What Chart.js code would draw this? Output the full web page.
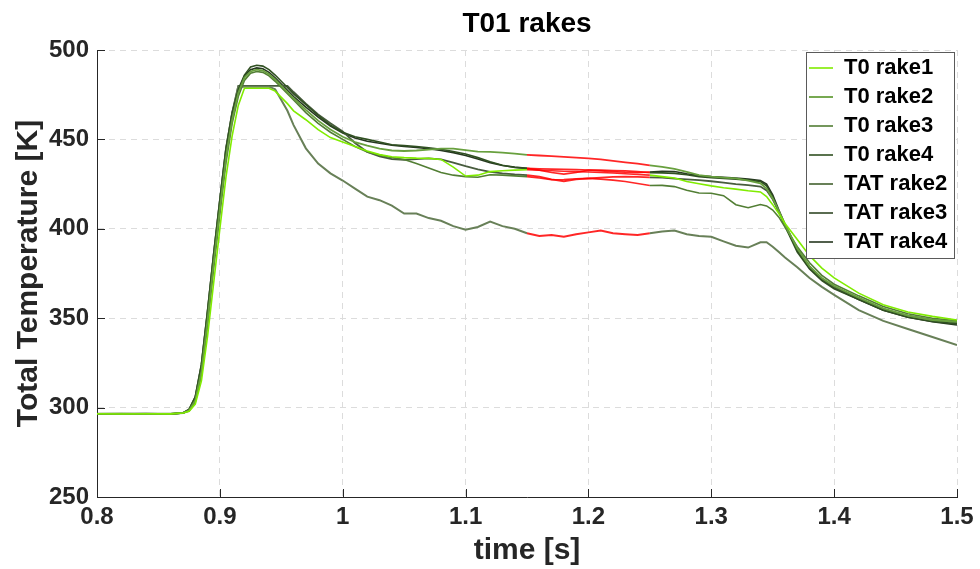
<!DOCTYPE html>
<html>
<head>
<meta charset="utf-8">
<script src="https://cdn.jsdelivr.net/npm/chart.js@4.4.1/dist/chart.umd.min.js"></script>
<style>
html,body{margin:0;padding:0;background:#fff;}
#c{display:block;}
</style>
</head>
<body>
<canvas id="c" width="980" height="569"></canvas>
<script>
// ---- data ----
const time = [0.80,0.82,0.84,0.86,
  0.87,0.875,0.88,0.885,0.89,0.895,0.90,0.905,0.91,0.915,0.92,0.925,0.93,0.935,0.94,0.945,0.95,0.955,0.96,
  0.97,0.98,0.99,1.00,1.01,1.02,1.03,1.04,1.05,1.06,1.07,1.08,1.09,1.10,1.11,1.12,1.13,1.14,1.15,
  1.16,1.17,1.18,1.19,1.20,1.21,1.22,1.23,1.24,1.25,1.26,1.27,1.28,1.29,1.30,1.31,1.32,1.33,1.34,
  1.345,1.35,1.355,1.36,1.37,1.38,1.39,1.40,1.42,1.44,1.46,1.48,1.50];

const seriesNames = ['T0 rake1','T0 rake2','T0 rake3','T0 rake4','TAT rake2','TAT rake3','TAT rake4'];

const t0Rake1 = [296.6,296.4,296.6,296.5,
  297,298,302,315,340,370,400,429,452,469,478.6,478.6,478.6,478.6,478.6,477,473.5,470,466,
  461,455.5,451,448.5,446,443.5,441.5,440.3,439.8,439.5,439.4,438.8,434.5,429.5,430,432,432.5,432.8,433,
  432.8,432.5,432.2,432,431.8,431.5,431.2,430.8,430.4,430,429.2,428.4,426.5,425.2,424,423,422.2,421.3,420.6,
  418,413.5,408.5,403,394,385,378,372.5,364,357.5,353.5,351,349];

const t0Rake2 = [296.5,296.6,296.4,296.5,
  297,298.5,304,320,349,381,411,440,461,476,484.5,488,489,488.5,486.5,483.5,480,476.5,473,
  466.5,460.5,455.5,451.5,448.5,446.5,444.8,443.8,443.5,443.8,444.3,444.8,444.8,444,443.2,443,442.6,442,441.4,
  441,440.6,440.2,439.8,439.4,438.8,438,437.2,436.4,435.5,434.6,433.5,431.8,430,429.2,428.6,428.2,427,425.4,
  422.5,417,410,402.5,389,379,372.5,368,361.5,355.5,351.5,349,348];

const t0Rake3 = [296.5,296.4,296.5,296.6,
  297,298,303,318,346,378,408,437,459,474,483,487,488,487.5,485.5,482.5,479,475.5,472,
  465,459,454,450,446,443,441.2,439.8,438.8,436.5,434,431.5,430,429.2,428.8,430.2,430,429.6,429.2,
  428.4,427.4,427.6,428,428.2,427.8,427.2,426.5,425.3,424.2,424.3,423.6,421.6,420,419.9,418.5,413.5,411.8,413.6,
  412.8,410.5,406.5,401,390,381,374,369,362.5,356.5,352.5,350,348.5];

const t0Rake4 = [296.4,296.5,296.5,296.4,
  297,299,306,324,354,386,416,445,465,478,486,490.5,491.5,491,489,486,482.5,479,475.5,
  469.5,463.5,458,454,451.5,450,448.5,447,446.5,446,445.3,444.5,443.2,441.8,439.8,437.5,435.5,434.3,433.8,
  433.6,433.4,433.3,433.1,432.9,432.8,432.6,432.4,432,431.4,431.3,431,430.2,429.2,428.6,428.2,427.8,427.2,426.4,
  424,418,409.5,401.5,387,377.5,371,366.5,360.5,354.5,350.5,348.2,346.8];

const tatRake2 = [296.5,296.6,296.5,296.5,
  297,298.5,305,323,353,385,415,444,464,479.5,479.5,479.5,479.5,479.5,479.5,478,472,466,458,
  445,436.5,431,427,422.5,418,416,413,408.5,408.5,406,404.5,401.5,399.5,401,404,401.5,400,397.5,
  396,396.5,395.6,397,398,399,397.5,397,396.5,397.5,398.5,399,397,396,395.5,393,390.5,389.5,392.5,
  392.5,390,387,384,378.5,372.5,367.5,363,354.5,348.5,344,339.5,335];

const tatRake3 = [296.5,296.5,296.6,296.4,
  297,299,306,324,354,386,416,445,465,479.9,479.9,479.9,479.9,479.9,479.9,479.9,479.9,479.9,476.5,
  470,464,459,454.5,448,443,440.5,439,438.6,439,439.4,438.8,437,435,433.2,431.8,431,430.4,430,
  429.2,427.6,426.6,427.6,428.2,428.6,429,429.2,429,428.8,428.6,428.1,427.6,427.2,426.6,425.8,425,424.4,423.6,
  421.5,416.5,409.5,402,388.5,379,372,367.5,361,355,351.5,349,347.5];

const tatRake4 = [296.6,296.4,296.5,296.6,
  297,298.5,305,322,352,384,414,443,463,477,485.5,489,490,489.5,487.5,484.5,481,477.5,474,
  468,462.5,457.5,453.5,450.8,449,447.8,446.8,446,445.5,444.8,443.8,442.6,441,439,437,435.4,434.5,433.8,
  432.8,431.5,430.6,431.5,432.8,432.4,432,431.6,431.4,431.8,432.2,432,430.8,429.8,429.2,428.8,428.4,427.8,427,
  425,419,410.5,402.5,388,378,371.5,367,360.5,354.5,350.5,348,346.2];

const seriesValues = [t0Rake1, t0Rake2, t0Rake3, t0Rake4, tatRake2, tatRake3, tatRake4];

const xRange = [0.8, 1.5];
const yRange = [250, 500];
const highlightWindow = [1.15, 1.25];

// ---- styles ----
const lineColors = ['rgb(128,236,0)','rgb(104,160,62)','rgb(82,126,52)','rgb(48,80,34)',
                    'rgb(104,128,88)','rgb(72,92,62)','rgb(38,56,32)'];
const lineWidths = [1.6,1.8,1.6,1.6,2.0,1.8,1.6];
const highlightColor = 'rgba(255,0,0,0.85)';
const FONT = '"Liberation Sans", Arial, Helvetica, sans-serif';

const inWindow = (ctx) => ctx.p0.parsed.x >= highlightWindow[0] - 1e-9 && ctx.p1.parsed.x <= highlightWindow[1] + 1e-9;

const datasets = seriesNames.map((name, i) => ({
  label: name,
  data: time.map((t, k) => ({x: t, y: seriesValues[i][k]})),
  borderColor: lineColors[i],
  backgroundColor: lineColors[i],
  borderWidth: lineWidths[i],
  pointRadius: 0,
  pointHoverRadius: 0,
  tension: 0,
  fill: false,
  segment: { borderColor: ctx => inWindow(ctx) ? highlightColor : undefined }
}));

const overlay = {
  id: 'overlay',
  afterUpdate(chart) {
    const lg = chart.legend;
    if (!lg) return;
    lg.left = 802; lg.top = 50; lg.width = 160; lg.height = 215;
    lg.right = lg.left + lg.width; lg.bottom = lg.top + lg.height;
  },
  afterDatasetsDraw(chart) {
    const ctx = chart.ctx;
    const xs = chart.scales.x, ys = chart.scales.y;
    const {left, bottom} = chart.chartArea;
    ctx.save();
    ctx.strokeStyle = '#262626';
    ctx.lineWidth = 1;
    ctx.beginPath();
    xs.ticks.forEach(t => {
      const px = Math.round(xs.getPixelForValue(t.value)) + 0.5;
      ctx.moveTo(px, bottom); ctx.lineTo(px, bottom - 8);
    });
    ys.ticks.forEach(t => {
      const py = Math.round(ys.getPixelForValue(t.value)) + 0.5;
      ctx.moveTo(left, py); ctx.lineTo(left + 8, py);
    });
    ctx.stroke();
    // legend background & frame
    ctx.fillStyle = '#ffffff';
    ctx.fillRect(806, 52, 148, 206);
    ctx.strokeStyle = '#5a5a5a';
    ctx.strokeRect(806.5, 52.5, 148, 206);
    ctx.restore();
    chart.legend.draw();
  }
};

new Chart(document.getElementById('c'), {
  type: 'line',
  data: { datasets },
  plugins: [overlay],
  options: {
    responsive: false,
    animation: false,
    devicePixelRatio: 1,
    layout: { padding: { left: 0, right: 23, top: 0, bottom: 0 } },
    plugins: {
      title: {
        display: true,
        text: 'T01 rakes',
        fullSize: false,
        color: '#000',
        font: { family: FONT, size: 28, weight: 'bold', lineHeight: 1.2 },
        padding: { top: 7, bottom: 9.4 }
      },
      legend: {
        display: true,
        position: 'chartArea',
        align: 'start',
        labels: {
          color: '#000',
          font: { family: FONT, size: 22, weight: 'bold' },
          usePointStyle: true,
          pointStyle: 'line',
          pointStyleWidth: 24,
          padding: 7,
          generateLabels: (chart) => chart.data.datasets.map((ds, i) => ({
            text: ds.label,
            fillStyle: ds.borderColor,
            strokeStyle: ds.borderColor,
            lineWidth: ds.borderWidth,
            pointStyle: 'line',
            fontColor: '#000',
            hidden: false,
            datasetIndex: i
          }))
        }
      },
      tooltip: { enabled: false }
    },
    scales: {
      x: {
        type: 'linear',
        min: xRange[0], max: xRange[1],
        afterFit: s => { s.height = 72; },
        ticks: {
          stepSize: 0.1,
          color: '#262626',
          padding: 6,
          maxRotation: 0,
          font: { family: FONT, size: 24, weight: 'bold' },
          callback: v => String(Number(v.toFixed(1)))
        },
        grid: { color: '#dcdcdc', lineWidth: 1, drawTicks: false },
        border: { display: true, color: '#262626', width: 1, dash: [6, 5] },
        title: {
          display: true, text: 'time [s]', color: '#262626',
          font: { family: FONT, size: 30, weight: 'bold', lineHeight: 1.2 },
          padding: { top: 0, bottom: 0 }
        }
      },
      y: {
        type: 'linear',
        min: yRange[0], max: yRange[1],
        afterFit: s => { s.width = 97; },
        ticks: {
          stepSize: 50,
          color: '#262626',
          padding: 8,
          font: { family: FONT, size: 24, weight: 'bold' }
        },
        grid: { color: '#dcdcdc', lineWidth: 1, drawTicks: false },
        border: { display: true, color: '#262626', width: 1, dash: [6, 5] },
        title: {
          display: true, text: 'Total Temperature [K]', color: '#262626',
          font: { family: FONT, size: 30, weight: 'bold', lineHeight: 1.2 },
          padding: { top: 11, bottom: 0 }
        }
      }
    }
  }
});
</script>
</body>
</html>
